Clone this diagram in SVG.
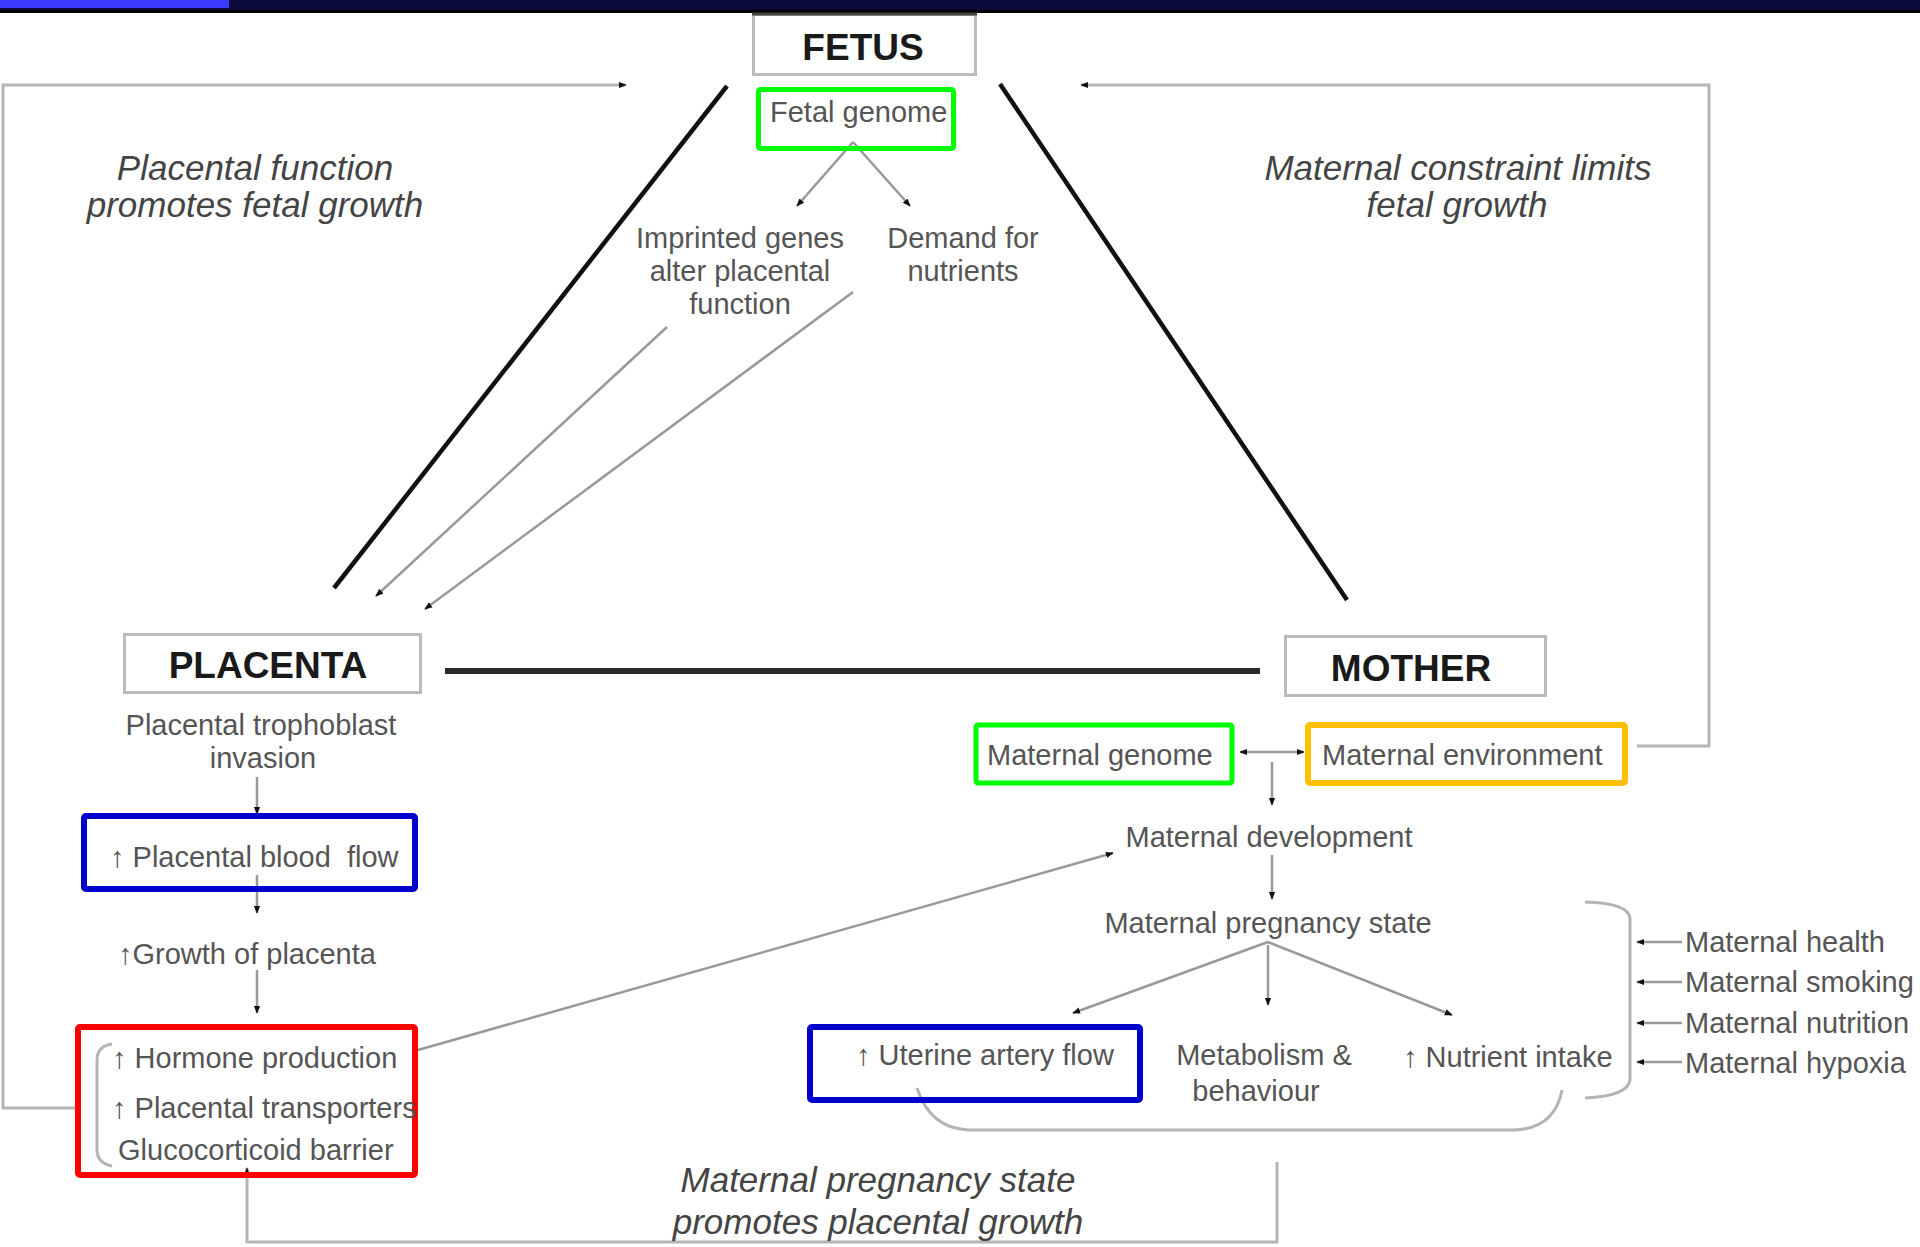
<svg xmlns="http://www.w3.org/2000/svg" width="1920" height="1247" viewBox="0 0 1920 1247">
<style>
.t{font-family:"Liberation Sans",Arial,sans-serif;font-size:29px;fill:#555}
.c{text-anchor:middle}
.i{font-family:"Liberation Sans",Arial,sans-serif;font-size:35px;font-style:italic;fill:#444;text-anchor:middle}
.h{font-family:"Liberation Sans",Arial,sans-serif;font-size:37px;font-weight:bold;fill:#1a1a1a;text-anchor:middle}
.box{fill:#fff;stroke:#bbb;stroke-width:3}
.g{fill:none;stroke:#00ff00;stroke-width:5}
.b{fill:none;stroke:#0000cc;stroke-width:6}
.r{fill:none;stroke:#ff0000;stroke-width:6}
.o{fill:none;stroke:#ffc000;stroke-width:6}
.fb{fill:none;stroke:#b4b4b4;stroke-width:3}
.thin{fill:none;stroke:#999;stroke-width:2.5}
.thick{fill:none;stroke:#111;stroke-width:4.5}
.ar{marker-end:url(#ah)}
</style>
<defs>
<marker id="ah" viewBox="0 0 10 10" refX="9" refY="5" markerWidth="8" markerHeight="8" markerUnits="userSpaceOnUse" orient="auto">
<path d="M0,1 L10,5 L0,9 z" fill="#111"/>
</marker>
<marker id="as" viewBox="0 0 10 10" refX="1" refY="5" markerWidth="8" markerHeight="8" markerUnits="userSpaceOnUse" orient="auto">
<path d="M10,1 L0,5 L10,9 z" fill="#111"/>
</marker>
</defs>
<rect x="0" y="0" width="1920" height="1247" fill="#fff"/>
<rect x="0" y="0" width="1920" height="12" fill="#0b0b3b"/>
<rect x="0" y="0" width="229" height="8" fill="#3a3aff"/>
<rect x="0" y="10" width="1920" height="3" fill="#000"/>

<g id="connectors">
<polyline class="fb ar" points="76,1108 3,1108 3,85 626,85"/>
<polyline class="fb ar" points="1637,746 1709,746 1709,85 1081,85"/>
<polyline class="fb ar" points="1277,1162 1277,1242 247,1242 247,1168"/>
<line class="thick" x1="727" y1="86" x2="334" y2="588"/>
<line class="thick" x1="1000" y1="84" x2="1347" y2="600"/>
<line x1="445" y1="671" x2="1260" y2="671" stroke="#2a2a2a" stroke-width="6"/>
<line class="thin ar" x1="667" y1="327" x2="376" y2="596"/>
<line class="thin ar" x1="853" y1="292" x2="425" y2="609"/>
<line class="thin ar" x1="853" y1="142" x2="797" y2="206"/>
<line class="thin ar" x1="853" y1="142" x2="910" y2="206"/>
<line class="thin ar" x1="257" y1="777" x2="257" y2="814"/>
<line class="thin ar" x1="257" y1="875" x2="257" y2="913"/>
<line class="thin ar" x1="257" y1="970" x2="257" y2="1013"/>
<line class="thin ar" x1="418" y1="1050" x2="1113" y2="853"/>
<line class="thin ar" x1="1240" y1="752" x2="1304" y2="752" marker-start="url(#as)"/>
<line class="thin ar" x1="1272" y1="762" x2="1272" y2="805"/>
<line class="thin ar" x1="1272" y1="855" x2="1272" y2="899"/>
<line class="thin ar" x1="1268" y1="942" x2="1073" y2="1013"/>
<line class="thin ar" x1="1268" y1="945" x2="1268" y2="1005"/>
<line class="thin ar" x1="1268" y1="942" x2="1452" y2="1015"/>
<line class="thin ar" x1="1682" y1="942" x2="1637" y2="942"/>
<line class="thin ar" x1="1682" y1="982" x2="1637" y2="982"/>
<line class="thin ar" x1="1682" y1="1023" x2="1637" y2="1023"/>
<line class="thin ar" x1="1682" y1="1062" x2="1637" y2="1062"/>
<path class="fb" d="M112,1044 Q97,1046 97,1060 L97,1150 Q97,1163 112,1166"/>
<path class="fb" d="M917,1088 Q930,1128 968,1130 L1515,1130 Q1555,1128 1562,1090"/>
<path class="fb" d="M1585,902 Q1628,903 1630,918 L1630,1080 Q1628,1096 1585,1098"/>
</g>

<g id="fetus">
<rect class="box" x="753.5" y="14.5" width="222" height="60"/>
<line x1="752" y1="14" x2="977" y2="14" stroke="#444" stroke-width="3"/>
<text class="h" x="863" y="60">FETUS</text>
</g>
<g id="fetal-genome">
<rect class="g" x="758.5" y="89.5" width="195" height="59" rx="2"/>
<text class="t" x="770" y="122">Fetal genome</text>
</g>
<g id="imprinted-genes">
<text class="t c" x="740" y="248">Imprinted genes</text>
<text class="t c" x="740" y="281">alter placental</text>
<text class="t c" x="740" y="314">function</text>
</g>
<g id="demand-nutrients">
<text class="t c" x="963" y="248">Demand for</text>
<text class="t c" x="963" y="281">nutrients</text>
</g>
<g id="label-placental-function">
<text class="i" x="255" y="180">Placental function</text>
<text class="i" x="255" y="217">promotes fetal growth</text>
</g>
<g id="label-maternal-constraint">
<text class="i" x="1458" y="180">Maternal constraint limits</text>
<text class="i" x="1457" y="217">fetal growth</text>
</g>
<g id="placenta">
<rect class="box" x="124.5" y="634.5" width="296" height="58"/>
<text class="h" x="268" y="678">PLACENTA</text>
</g>
<g id="trophoblast">
<text class="t c" x="261" y="735">Placental trophoblast</text>
<text class="t c" x="263" y="768">invasion</text>
</g>
<g id="blood-flow">
<rect class="b" x="84" y="816" width="331" height="73" rx="2"/>
<text class="t" x="110" y="867">↑ Placental blood&#160; flow</text>
</g>
<g id="growth-placenta">
<text class="t" x="118" y="964">↑Growth of placenta</text>
</g>
<g id="placental-outputs">
<rect class="r" x="78" y="1027" width="337" height="148" rx="2"/>
<text class="t" x="112" y="1068">↑ Hormone production</text>
<text class="t" x="112" y="1118">↑ Placental transporters</text>
<text class="t" x="118" y="1160">Glucocorticoid barrier</text>
</g>
<g id="mother">
<rect class="box" x="1285.5" y="636.5" width="260" height="59"/>
<text class="h" x="1411" y="681">MOTHER</text>
</g>
<g id="maternal-genome">
<rect class="g" x="976" y="725" width="256" height="58" rx="2" stroke-width="6"/>
<text class="t" x="987" y="765">Maternal genome</text>
</g>
<g id="maternal-environment">
<rect class="o" x="1308" y="725" width="317" height="58" rx="2"/>
<text class="t" x="1322" y="765">Maternal environment</text>
</g>
<g id="maternal-development">
<text class="t c" x="1269" y="847">Maternal development</text>
</g>
<g id="maternal-pregnancy-state">
<text class="t c" x="1268" y="933">Maternal pregnancy state</text>
</g>
<g id="uterine-flow">
<rect class="b" x="810" y="1027" width="330" height="73" rx="2"/>
<text class="t" x="856" y="1065">↑ Uterine artery flow</text>
</g>
<g id="metabolism">
<text class="t c" x="1264" y="1065">Metabolism &amp;</text>
<text class="t c" x="1256" y="1101">behaviour</text>
</g>
<g id="nutrient-intake">
<text class="t" x="1403" y="1067">↑ Nutrient intake</text>
</g>
<g id="maternal-factors">
<text class="t" x="1685" y="952">Maternal health</text>
<text class="t" x="1685" y="992">Maternal smoking</text>
<text class="t" x="1685" y="1033">Maternal nutrition</text>
<text class="t" x="1685" y="1073">Maternal hypoxia</text>
</g>
<g id="label-pregnancy-state">
<text class="i" x="878" y="1192">Maternal pregnancy state</text>
<text class="i" x="878" y="1234">promotes placental growth</text>
</g>
</svg>
